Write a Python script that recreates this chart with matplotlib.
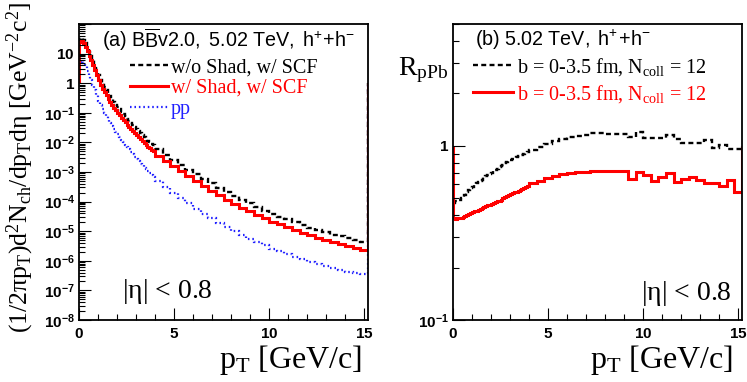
import numpy as np
import matplotlib
matplotlib.use("Agg")
import matplotlib.pyplot as plt
from matplotlib.lines import Line2D
from matplotlib.ticker import LogLocator, MultipleLocator, FuncFormatter, NullFormatter

plt.rcParams['font.family'] = ['Liberation Serif', 'DejaVu Serif']
plt.rcParams['mathtext.fontset'] = 'custom'
plt.rcParams['mathtext.rm'] = 'Liberation Serif'
plt.rcParams['mathtext.it'] = 'Liberation Serif'
plt.rcParams['mathtext.bf'] = 'Liberation Sans:bold'
plt.rcParams['mathtext.sf'] = 'Liberation Sans'

# pT binning: 0.1 GeV up to 4, then 0.4 GeV up to 15.2
pt_edges = np.round(np.concatenate([np.arange(0, 40) * 0.1, 4.0 + np.arange(0, 29) * 0.4]), 2)

# (a) invariant yields
spec_noshad = [30, 34, 29, 22, 16, 11.5, 8.3, 5.9, 4.0, 2.75,
               1.84, 1.31, 0.98, 0.75, 0.585, 0.45, 0.365, 0.29, 0.23, 0.19,
               0.156, 0.130, 0.109, 0.092, 0.076, 0.064, 0.054, 0.046, 0.040, 0.034,
               0.028, 0.0237, 0.0202, 0.0176, 0.0152, 0.0133, 0.0115, 0.0101, 0.0090, 0.0080,
               5.8e-3, 3.9e-3, 2.6e-3, 1.76e-3, 1.21e-3, 8.3e-4, 5.8e-4, 4.1e-4, 2.95e-4, 2.1e-4,
               1.53e-4, 1.13e-4, 8.7e-5, 6.7e-5, 4.9e-5, 3.9e-5, 3.1e-5, 2.5e-5, 2.0e-5, 1.65e-5,
               1.33e-5, 1.08e-5, 9.2e-6, 7.7e-6, 6.7e-6, 5.8e-6, 5.0e-6, 4.4e-6]
spec_shad = [24, 27, 23, 17, 12, 8.5, 6.0, 4.2, 2.8, 1.9,
             1.26, 0.89, 0.66, 0.50, 0.39, 0.30, 0.24, 0.19, 0.15, 0.123,
             0.100, 0.083, 0.069, 0.058, 0.048, 0.040, 0.034, 0.029, 0.025, 0.021,
             0.0174, 0.0148, 0.0126, 0.0110, 0.0095, 0.0083, 0.0072, 0.0063, 0.0056, 0.0050,
             3.6e-3, 2.4e-3, 1.58e-3, 1.05e-3, 7.1e-4, 4.8e-4, 3.3e-4, 2.3e-4, 1.66e-4, 1.17e-4,
             8.5e-5, 6.3e-5, 4.8e-5, 3.6e-5, 2.75e-5, 2.1e-5, 1.7e-5, 1.35e-5, 1.1e-5, 8.9e-6,
             7.2e-6, 6.0e-6, 5.0e-6, 4.3e-6, 3.6e-6, 3.2e-6, 2.8e-6, 2.4e-6]
spec_pp = [5.2, 5.8, 5.0, 3.8, 2.6, 1.82, 1.29, 0.88, 0.60, 0.39,
           0.26, 0.184, 0.135, 0.102, 0.078, 0.060, 0.047, 0.037, 0.029, 0.023,
           0.0186, 0.0151, 0.0124, 0.0102, 0.0083, 0.0068, 0.0058, 0.0048, 0.0040, 0.0033,
           0.00275, 0.0023, 0.0019, 0.00166, 0.00141, 0.00123, 0.00105, 0.00089, 0.00079, 0.00069,
           4.9e-4, 3.2e-4, 2.0e-4, 1.3e-4, 8.7e-5, 5.8e-5, 3.9e-5, 2.7e-5, 1.9e-5, 1.35e-5,
           9.8e-6, 7.2e-6, 5.6e-6, 4.3e-6, 3.3e-6, 2.6e-6, 2.1e-6, 1.7e-6, 1.38e-6, 1.15e-6,
           9.3e-7, 7.8e-7, 6.6e-7, 5.6e-7, 4.9e-7, 4.3e-7, 3.9e-7, 3.6e-7]

# (b) R_pPb
r_noshad = [0.47, 0.48, 0.48, 0.49, 0.50, 0.51, 0.52, 0.54, 0.56, 0.57,
            0.58, 0.60, 0.61, 0.62, 0.63, 0.64, 0.66, 0.67, 0.68, 0.69,
            0.70, 0.72, 0.73, 0.74, 0.76, 0.77, 0.78, 0.80, 0.81, 0.82,
            0.83, 0.84, 0.85, 0.86, 0.87, 0.88, 0.89, 0.90, 0.91, 0.92,
            0.95, 0.98, 1.03, 1.06, 1.10, 1.12, 1.14, 1.16, 1.18, 1.18,
            1.17, 1.17, 1.17, 1.13, 1.20, 1.11, 1.11, 1.11, 1.16, 1.09,
            1.04, 1.04, 1.04, 1.08, 0.97, 1.01, 0.96, 0.96]
r_shad = [0.385, 0.38, 0.385, 0.385, 0.385, 0.39, 0.395, 0.40, 0.405, 0.41,
          0.415, 0.42, 0.425, 0.43, 0.435, 0.44, 0.445, 0.45, 0.455, 0.46,
          0.465, 0.47, 0.475, 0.48, 0.48, 0.49, 0.50, 0.51, 0.515, 0.52,
          0.53, 0.535, 0.54, 0.545, 0.55, 0.56, 0.565, 0.57, 0.58, 0.585,
          0.61, 0.63, 0.655, 0.67, 0.69, 0.70, 0.705, 0.71, 0.72, 0.715,
          0.72, 0.72, 0.72, 0.644, 0.706, 0.68, 0.63, 0.66, 0.70, 0.62,
          0.644, 0.66, 0.64, 0.61, 0.61, 0.59, 0.64, 0.545]

leg_a = ["w/o Shad, w/ SCF", "w/ Shad, w/ SCF", "pp"]
leg_b = [r"b = 0-3.5 fm, N$_{\mathrm{coll}}$ = 12", r"b = 0-3.5 fm, N$_{\mathrm{coll}}$ = 12"]

dash = (0, (2.1, 1.4))
dot = (0, (0.7, 1.3))
sty_black = dict(color="black", lw=1.7, linestyle=dash)
sty_red = dict(color="#ff0000", lw=2.2, linestyle="-")
sty_blue = dict(color="#2020ff", lw=1.6, linestyle=dot)


def exp_fmt(v, pos):
    if np.isclose(v, 10):
        return r"$\mathbf{10}$"
    if np.isclose(v, 1):
        return r"$\mathbf{1}$"
    if v < 1:
        return r"$\mathbf{10^{%d}}$" % int(round(np.log10(v)))
    return ""


def style_axes(ax, ymin, ymax):
    ax.set_yscale("log")
    ax.set_xlim(0, 15.2)
    ax.set_ylim(ymin, ymax)
    ax.xaxis.set_major_locator(MultipleLocator(5))
    ax.xaxis.set_minor_locator(MultipleLocator(1))
    ax.yaxis.set_major_locator(LogLocator(base=10, numticks=20))
    ax.yaxis.set_minor_locator(LogLocator(base=10, subs=np.arange(2, 10), numticks=20))
    ax.yaxis.set_major_formatter(FuncFormatter(exp_fmt))
    ax.yaxis.set_minor_formatter(NullFormatter())
    ax.xaxis.set_major_formatter(FuncFormatter(lambda v, p: r"$\mathbf{%d}$" % v))
    ax.tick_params(which="both", direction="in", top=False, right=False, width=0.8, labelsize=11)
    ax.tick_params(which="major", length=8.5)
    ax.tick_params(which="minor", length=4.3)
    ax.tick_params(axis="x", pad=5)
    ax.tick_params(axis="y", pad=3)
    for s in ax.spines.values():
        s.set_linewidth(1.3)


fig = plt.figure(figsize=(7.47, 3.82), dpi=100)
axa = fig.add_axes([79 / 747, 62 / 382, 289 / 747, 296 / 382])
axb = fig.add_axes([453 / 747, 62 / 382, 289 / 747, 296 / 382])

# panel (a)
axa.stairs(spec_pp, pt_edges, baseline=1.0, **sty_blue)
axa.stairs(spec_noshad, pt_edges, baseline=1.0, **sty_black)
axa.stairs(spec_shad, pt_edges, baseline=1.0, **sty_red)
style_axes(axa, 1e-8, 1e2)

h = [Line2D([], [], **sty_black), Line2D([], [], **sty_red), Line2D([], [], **sty_blue)]
axa.legend(h, leg_a, loc="upper left", bbox_to_anchor=(0.176, 0.885), frameon=False,
           fontsize=14.5, handlelength=1.9, handletextpad=0.15, labelspacing=0.08,
           borderpad=0, borderaxespad=0, labelcolor=["black", "#ff0000", "#2020ff"])
axa.text(0.08, 0.946, r"$\mathsf{(a)\ B\overline{B}v2.0,\ 5.02\ TeV,\ h^{+}\!+\!h^{-}}$",
         transform=axa.transAxes, fontsize=14.2, va="center", ha="left")
axa.text(0.149, 0.095, r"|$\eta$| < 0.8", transform=axa.transAxes, fontsize=20,
         va="center", ha="left")
axa.set_xlabel(r"p$_{\mathrm{T}}$ [GeV/c]", fontsize=23, ha="right", va="center")
axa.xaxis.set_label_coords(0.979, -0.135)
fig.text(20 / 747, 1 - 2 / 382,
         r"(1/2$\pi$p$_{\mathrm{T}}$)d$^{2}$N$_{\mathrm{ch}}$/dp$_{\mathrm{T}}$d$\eta$ [GeV$^{-2}$c$^{2}$]",
         rotation=90, fontsize=18.5, ha="center", va="top")

# panel (b)
axb.stairs(r_noshad, pt_edges, baseline=1.0, **sty_black)
axb.stairs(r_shad, pt_edges, baseline=1.0, **sty_red)
style_axes(axb, 0.1, 5)

h = [Line2D([], [], **sty_black), Line2D([], [], **sty_red)]
axb.legend(h, leg_b, loc="upper left", bbox_to_anchor=(0.069, 0.893), frameon=False,
           fontsize=14.5, handlelength=2.0, handletextpad=0.2, labelspacing=0.25,
           borderpad=0, borderaxespad=0, labelcolor=["black", "#ff0000"])
axb.text(0.076, 0.946, r"$\mathsf{(b)\ 5.02\ TeV,\ h^{+}\!+\!h^{-}}$",
         transform=axb.transAxes, fontsize=14.2, va="center", ha="left")
axb.text(0.965, 0.091, r"|$\eta$| < 0.8", transform=axb.transAxes, fontsize=20,
         va="center", ha="right")
axb.set_xlabel(r"p$_{\mathrm{T}}$ [GeV/c]", fontsize=23, ha="right", va="center")
axb.xaxis.set_label_coords(0.969, -0.135)
fig.text(398 / 747, 1 - 75 / 382, r"R$_{\mathrm{pPb}}$", fontsize=20, ha="left", va="baseline")

fig.savefig("out.png", dpi=100)
